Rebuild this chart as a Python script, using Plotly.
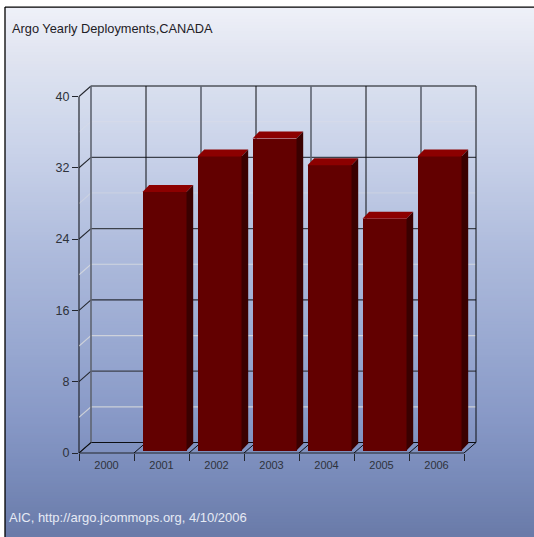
import plotly.graph_objects as go

categories = ["2000", "2001", "2002", "2003", "2004", "2005", "2006"]
deployments = [0, 29, 33, 35, 32, 26, 33]
y_major = [0, 8, 16, 24, 32, 40]
y_minor = [4, 12, 20, 28, 36]
minor_alpha = [0.65, 0.6, 0.55, 0.25, 0.15]
title_text = "Argo Yearly Deployments,CANADA"
footer_text = "AIC, http://argo.jcommops.org, 4/10/2006"

W, H = 534, 537
L, R, T, B = 79, 464, 96.5, 453.5      # front plane of the chart, in page pixels
n = len(categories)
PX_X = (R - L) / n
PX_Y = (B - T) / 40
DX, DY = 12 / PX_X, 10.5 / PX_Y        # wall depth in data units
BAR_W, BAR_SHIFT, BAR_BASE = 0.8, 3 / PX_X, 2.5 / PX_Y
BAR_DX, BAR_DY = 6.7 / PX_X, 7 / PX_Y
PAD = 3                                # spare pixels right of / above the back wall

# The plot area is widened to hold the back wall; the front axis lines are drawn separately.
x_hi = n + (12 + PAD) / PX_X
y_hi = 40 + (10.5 + PAD) / PX_Y
PLOT_R = L + x_hi * PX_X
PLOT_T = B - y_hi * PX_Y

FRONT, TOP, SIDE = "#620000", "#8c0000", "#3a0000"
GRID_DARK, GRID_SOFT, GRID_MID = "#0c0e12", "#5f6571", "#3c414b"
AXIS = "#23262d"


def px(x):
    return (x - L) / (PLOT_R - L)


def py(y):
    return (B - y) / (B - PLOT_T)


STOPS = [(8, (238, 240, 248)), (60, (223, 227, 240)), (90, (215, 222, 238)),
         (150, (201, 210, 233)), (250, (174, 187, 220)), (350, (151, 167, 208)),
         (420, (135, 152, 198)), (470, (122, 140, 187)), (537, (105, 122, 168))]


def band_colour(y):
    for (a, ca), (b, cb) in zip(STOPS, STOPS[1:]):
        if y <= b:
            t = (y - a) / (b - a)
            return "rgb(%d,%d,%d)" % tuple(round(p + (q - p) * t) for p, q in zip(ca, cb))
    return "rgb(105,122,168)"


shapes = []
for y in range(7, H, 3):
    shapes.append(dict(type="rect", xref="paper", yref="paper", layer="below",
                       x0=px(5), x1=px(W + 2), y0=py(y), y1=py(y + 3.5),
                       fillcolor=band_colour(y), line_width=0))
for x0, y0, x1, y1 in [(5, 7, W + 2, 7), (5, 7, 5, H + 2)]:
    shapes.append(dict(type="line", xref="paper", yref="paper", layer="below",
                       x0=px(x0), x1=px(x1), y0=py(y0), y1=py(y1),
                       line=dict(color="#000000", width=1.3)))


def grid(xs, ys, color, width=1.0):
    path = "M " + " L ".join("%.4f,%.4f" % p for p in zip(xs, ys))
    shapes.append(dict(type="path", path=path, xref="x", yref="y", layer="below",
                       line=dict(color=color, width=width)))


# pale minor wall lines
for v, a in zip(y_minor, minor_alpha):
    grid([0, DX, n + DX], [v, v + DY, v + DY], "rgba(240,236,225,%.2f)" % a, 1.2)
# major wall lines
for v in y_major:
    dark = v in (0, 16, 40)
    grid([0, DX], [v, v + DY], AXIS, 1.1)
    grid([DX, n + DX], [v + DY, v + DY], GRID_DARK if dark else GRID_MID, 1.0 if dark else 1.3)
# back wall verticals and floor diagonals
for i in range(n + 1):
    dark = i % 2 == 1
    grid([i + DX, i + DX], [DY, 40 + DY], GRID_DARK if dark else GRID_SOFT, 1.0 if dark else 1.6)
    grid([i, i + DX], [0, DY], GRID_DARK, 1.0)

# front axis lines
for x0, y0, x1, y1 in [(L, T, L, B), (L, B, R, B)]:
    shapes.append(dict(type="line", xref="paper", yref="paper", layer="below",
                       x0=px(x0), x1=px(x1), y0=py(y0), y1=py(y1),
                       line=dict(color=AXIS, width=1.2)))

fig = go.Figure()
centres = [i + 0.5 + BAR_SHIFT for i in range(n)]
fig.add_trace(go.Bar(x=centres, y=deployments, base=BAR_BASE, width=BAR_W,
                     marker=dict(color=FRONT, line_width=0), showlegend=False, hoverinfo="skip"))
for c, v in zip(centres, deployments):
    if v <= 0:
        continue
    left, right = c - BAR_W / 2, c + BAR_W / 2
    top = v + BAR_BASE
    fig.add_trace(go.Scatter(x=[left, right, right + BAR_DX, left + BAR_DX, left],
                             y=[top, top, top + BAR_DY, top + BAR_DY, top],
                             mode="lines", fill="toself", fillcolor=TOP, line=dict(width=0, color=TOP),
                             showlegend=False, hoverinfo="skip"))
    fig.add_trace(go.Scatter(x=[right, right + BAR_DX, right + BAR_DX, right, right],
                             y=[BAR_BASE, BAR_BASE + BAR_DY, top + BAR_DY, top, BAR_BASE],
                             mode="lines", fill="toself", fillcolor=SIDE, line=dict(width=0, color=SIDE),
                             showlegend=False, hoverinfo="skip"))

FONT = "Liberation Sans, Arial, sans-serif"
TICK_COLOUR = "#2e323b"
fig.update_layout(
    width=W, height=H, autosize=False,
    margin=dict(l=L, r=W - PLOT_R, t=PLOT_T, b=H - B, pad=0),
    paper_bgcolor="#ffffff", plot_bgcolor="rgba(0,0,0,0)",
    shapes=shapes, bargap=0,
    font=dict(family=FONT, size=12, color=TICK_COLOUR),
    xaxis=dict(range=[0, x_hi], tickmode="array", tickvals=[i + 0.5 for i in range(n)], ticktext=categories,
               ticks="", showgrid=False, zeroline=False, showline=False,
               tickfont=dict(size=11, color=TICK_COLOUR), ticklabelstandoff=4,
               minor=dict(ticks="outside", tickmode="array", tickvals=list(range(n + 1)), ticklen=6.5,
                          tickcolor=AXIS, tickwidth=1.1, showgrid=False)),
    yaxis=dict(range=[0, y_hi], tickmode="array", tickvals=y_major, ticks="outside", ticklen=6,
               tickcolor=AXIS, tickwidth=1.1, showgrid=False, zeroline=False, showline=False,
               tickfont=dict(size=12.5, color=TICK_COLOUR), ticklabelstandoff=0),
    annotations=[
        dict(text=title_text, xref="paper", yref="paper", x=px(10), y=py(28), xanchor="left", yanchor="middle",
             showarrow=False, font=dict(size=12.8, color="#1e2026", family=FONT)),
        dict(text=footer_text, xref="paper", yref="paper", x=px(7), y=py(518), xanchor="left", yanchor="middle",
             showarrow=False, font=dict(size=13, color="#e6eaf4", family=FONT)),
    ],
)

fig.write_html("out.html", config=dict(displayModeBar=False),
               post_script="document.body.style.margin='0';document.body.style.overflow='hidden';")
